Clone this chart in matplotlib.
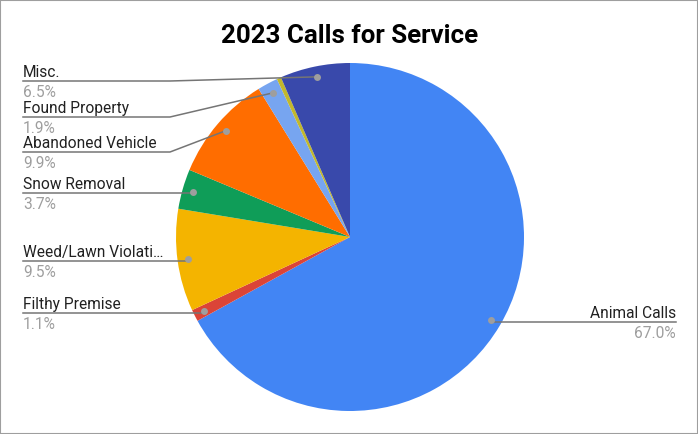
import matplotlib
matplotlib.use("Agg")
import matplotlib.pyplot as plt
from matplotlib.patches import Rectangle
import numpy as np

plt.rcParams['font.family'] = ['Roboto', 'DejaVu Sans']

title = "2023 Calls for Service"
categories = ["Animal Calls", "Filthy Premise", "Weed/Lawn Violati\u2026", "Snow Removal",
              "Abandoned Vehicle", "Found Property", "", "Misc."]
values = [67.0, 1.1, 9.5, 3.7, 9.9, 1.9, 0.4, 6.5]
colors = ["#4285f4", "#db4437", "#f4b400", "#0f9d58", "#ff6d00", "#77a5f0", "#c2b82c", "#3949ab"]

W, H = 698, 434
fig = plt.figure(figsize=(W / 100, H / 100), dpi=100)
ax = fig.add_axes([0, 0, 1, 1])

def Y(p):
    return H - p

cx, cy, R = 350, 237, 174
wedges, _ = ax.pie(values, colors=colors, startangle=90, counterclock=False,
                   center=(cx, Y(cy)), radius=R, wedgeprops=dict(linewidth=0))
ax.set_xlim(0, W)
ax.set_ylim(0, H)
ax.set_aspect('equal')
ax.axis('off')

# label layout: (line y in px from top, knee x, side)
layout = {
    "Misc.": (81, 170, 'L'),
    "Found Property": (117, 170, 'L'),
    "Abandoned Vehicle": (152, 170, 'L'),
    "Snow Removal": (193, None, 'L'),
    "Weed/Lawn Violati\u2026": (261, None, 'L'),
    "Filthy Premise": (313, None, 'L'),
    "Animal Calls": (322, None, 'R'),
}
line_c = "#757575"
fs = 11.2
for w, name, v in zip(wedges, categories, values):
    if not name:
        continue
    mid = np.deg2rad((w.theta1 + w.theta2) / 2)
    dx = cx + 0.94 * R * np.cos(mid)
    dy = Y(cy) + 0.94 * R * np.sin(mid)
    ly, knee, side = layout[name]
    if side == 'L':
        x0 = 23
        if knee is None:
            ax.plot([x0, dx], [Y(ly), Y(ly)], color=line_c, lw=1.1, zorder=3)
        else:
            ax.plot([x0, knee, dx], [Y(ly), Y(ly), dy], color=line_c, lw=1.1, zorder=3)
        ax.text(x0, Y(ly - 4), name, ha='left', va='baseline', fontsize=fs, color='#212121')
        ax.text(x0, Y(ly + 4), f"{v:.1f}%", ha='left', va='top', fontsize=fs, color='#9e9e9e')
    else:
        x1 = 676
        ax.plot([dx, x1], [Y(ly), Y(ly)], color=line_c, lw=1.1, zorder=3)
        ax.text(x1, Y(ly - 4), name, ha='right', va='baseline', fontsize=fs, color='#212121')
        ax.text(x1, Y(ly + 4), f"{v:.1f}%", ha='right', va='top', fontsize=fs, color='#9e9e9e')
    ax.plot([dx], [dy], 'o', ms=5, color='#9e9e9e', mec='none', zorder=4)

ax.text(350, Y(36), title, ha='center', va='center', fontsize=18.6, fontweight='bold', color='#000000')

fig.patches.append(Rectangle((0, 0), 1, 1, transform=fig.transFigure, fill=False,
                             edgecolor='#9e9e9e', lw=1.5))

fig.savefig("out.png", dpi=100)
